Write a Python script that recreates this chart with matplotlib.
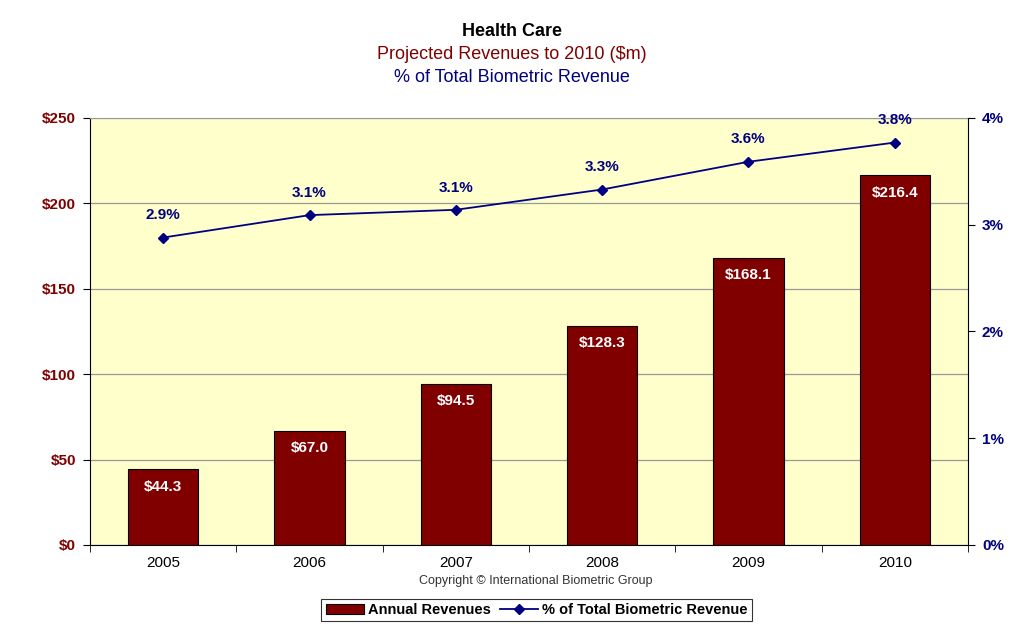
import matplotlib.pyplot as plt
import numpy as np

plt.rcParams['font.family'] = ['Liberation Sans', 'DejaVu Sans']

# data
years = ['2005', '2006', '2007', '2008', '2009', '2010']
revenues = [44.3, 67.0, 94.5, 128.3, 168.1, 216.4]
pct_total = [2.88, 3.09, 3.14, 3.33, 3.59, 3.77]

bar_color = '#800000'
line_color = '#000080'

fig = plt.figure(figsize=(10.24, 6.32), dpi=100)
ax = fig.add_axes([0.0879, 0.1377, 0.8574, 0.6756])
ax.set_facecolor('#FFFFCC')

x = np.arange(len(years))
bars = ax.bar(x, revenues, width=0.48, color=bar_color, edgecolor='black',
              linewidth=0.8, zorder=3, label='Annual Revenues')
ax.set_xlim(-0.5, len(years) - 0.5)
ax.set_ylim(0, 250)
ax.set_yticks(range(0, 251, 50))
ax.set_yticklabels(['$%d' % v for v in range(0, 251, 50)],
                   color=bar_color, fontweight='bold', fontsize=11)
ax.grid(axis='y', color='#999999', linewidth=0.9, zorder=0)
ax.set_xticks(x)
ax.set_xticklabels(years, fontsize=11)
ax.tick_params(axis='x', length=0, pad=8)
ax.set_xticks(np.arange(-0.5, len(years)), minor=True)
ax.tick_params(axis='x', which='minor', length=5, direction='out')
ax.tick_params(axis='y', length=5, direction='out', pad=5)

for b, v in zip(bars, revenues):
    ax.text(b.get_x() + b.get_width() / 2, v - 6, '$%.1f' % v,
            ha='center', va='top', color='white', fontweight='bold',
            fontsize=11, zorder=4)

ax.spines['top'].set_color('#999999')
ax.spines['right'].set_visible(False)

ax2 = ax.twinx()
line, = ax2.plot(x, pct_total, color=line_color, marker='D', markersize=5,
                 linewidth=1.3, zorder=5, label='% of Total Biometric Revenue')
ax2.set_ylim(0, 4)
ax2.set_yticks(range(0, 5))
ax2.set_yticklabels(['%d%%' % v for v in range(0, 5)],
                    color=line_color, fontweight='bold', fontsize=11)
ax2.tick_params(axis='y', length=5, direction='out', pad=5)
for s in ['top', 'left', 'bottom']:
    ax2.spines[s].set_visible(False)

for xi, p in zip(x, pct_total):
    ax2.annotate('%.1f%%' % p, (xi, p), xytext=(0, 11), textcoords='offset points',
                 ha='center', va='bottom', color=line_color,
                 fontweight='bold', fontsize=11)

fig.text(0.5, 0.950, 'Health Care', ha='center', va='center',
         fontsize=13, fontweight='bold', color='black')
fig.text(0.5, 0.914, 'Projected Revenues to 2010 ($m)', ha='center',
         va='center', fontsize=13, color=bar_color)
fig.text(0.5, 0.877, '% of Total Biometric Revenue', ha='center',
         va='center', fontsize=13, color=line_color)
fig.text(0.523, 0.080, 'Copyright \u00a9 International Biometric Group',
         ha='center', va='center', fontsize=9, color='#333333')

leg = fig.legend([bars, line], ['Annual Revenues', '% of Total Biometric Revenue'],
                 loc='center', bbox_to_anchor=(0.524, 0.035), ncol=2,
                 frameon=True, fancybox=False, edgecolor='black',
                 prop={'weight': 'bold', 'size': 10.5}, handlelength=2.6,
                 columnspacing=0.6, handletextpad=0.3, borderpad=0.3)
leg.get_frame().set_linewidth(0.8)

fig.savefig('out.png', dpi=100)
